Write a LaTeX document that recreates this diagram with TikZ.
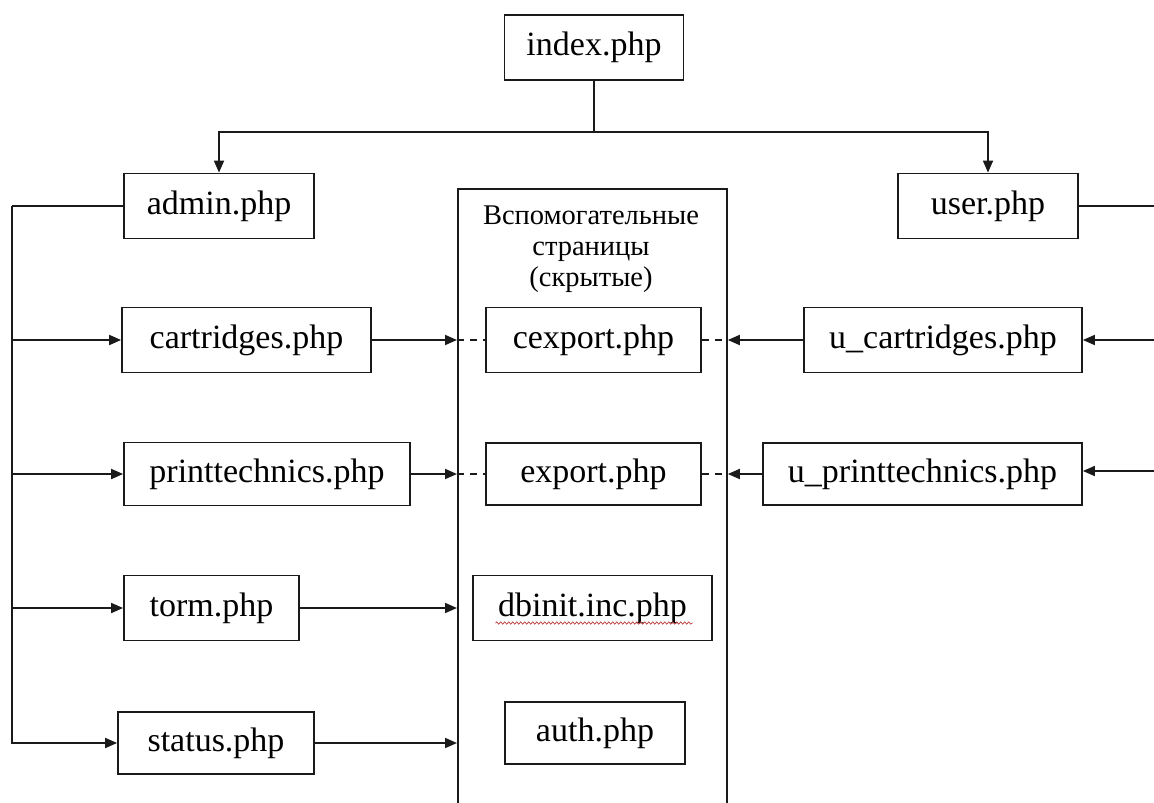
\documentclass[tikz,border=0pt]{standalone}
\usepackage{fontspec}
\setmainfont{Liberation Serif}
\usetikzlibrary{positioning,arrows.meta,calc,decorations.pathmorphing}
\definecolor{ink}{HTML}{1A1A1A}
\definecolor{squiggle}{HTML}{C0393B}
\tikzset{
  page/.style  ={draw=ink, line width=1.8pt, fill=white, minimum height=65pt, inner sep=0pt, font=\fontsize{34}{40}\selectfont},
  hidden/.style={draw=ink, line width=1.8pt, minimum width=269pt, minimum height=660pt, inner sep=0pt},
  htitle/.style={align=center, font=\fontsize{28.5}{31}\selectfont},
  ln/.style    ={draw=ink, line width=1.8pt, -{Triangle[length=12pt,width=10pt]}},
  lnp/.style   ={draw=ink, line width=1.8pt},
  lnd/.style   ={draw=ink, line width=1.8pt, dash pattern=on 7pt off 6pt},
}

\begin{document}
\begin{tikzpicture}[x=1pt,y=-1pt]
    \useasboundingbox (0,0) rectangle (1154,803);
    \clip (0,0) rectangle (1154,803);

    % hidden helper pages
    \node[hidden,anchor=north west] (aux) at (457,188) {};
    \node[htitle] (auxt) at (591,249) {Вспомогательные\\страницы\\(скрытые)};

    \node[page,minimum width=179pt] (index) at (594,47.5) {index.php};
    \node[page,minimum width=190pt] (admin) at (219,206) {admin.php};
    \node[page,minimum width=180pt] (user)  at (988,206) {user.php};

    \node[page,minimum width=249pt] (cart)  at (246.5,340) {cartridges.php};
    \node[page,minimum width=286pt,minimum height=63pt] (print) at (267,474) {printtechnics.php};
    \node[page,minimum width=175pt] (torm)  at (211.5,608) {torm.php};
    \node[page,minimum width=196pt,minimum height=62pt] (status) at (216,743) {status.php};

    \node[page,minimum width=215pt] (cexp)  at (593.5,340) {cexport.php};
    \node[page,minimum width=215pt,minimum height=62pt] (exp) at (593.5,474) {export.php};
    \node[page,minimum width=239pt] (dbinit) at (592.5,608) {dbinit.inc.php};
    \node[page,minimum width=180pt,minimum height=62pt] (auth) at (595,733) {auth.php};

    \node[page,minimum width=278pt] (ucart)  at (943,340) {u\_cartridges.php};
    \node[page,minimum width=319pt,minimum height=62pt] (uprint) at (922.5,474) {u\_printtechnics.php};

    \draw[squiggle,line width=.7pt,decorate,decoration={snake,amplitude=1.2pt,segment length=4pt}]
      ($(dbinit.center)+(-97,15)$) -- ($(dbinit.center)+(100,15)$);

    % free ends at the page edges
    \coordinate (bus)  at (12,206);
    \coordinate (rout) at (1154,206);
    \coordinate (rin1) at (1154,340);
    \coordinate (rin2) at (1154,471);
    \coordinate (top)  at (594,132);

    \draw[lnp] (index.south) -- (top);
    \draw[ln] (top) -| (admin.north);
    \draw[ln] (top) -| (user.north);

    \draw[lnp] (admin.west) -- (bus);
    \draw[ln] (bus) |- (status.west);
    \draw[ln] (bus |- cart.west) -- (cart.west);
    \draw[ln] (bus |- print.west) -- (print.west);
    \draw[ln] (bus |- torm.west) -- (torm.west);

    \draw[ln] (cart.east) -- (cart.east -| aux.west);
    \draw[ln] (print.east) -- (print.east -| aux.west);
    \draw[ln] (torm.east) -- (torm.east -| aux.west);
    \draw[ln] (status.east) -- (status.east -| aux.west);
    \draw[lnd] (cexp.west -| aux.west) -- (cexp.west);
    \draw[lnd] (exp.west -| aux.west) -- (exp.west);

    \draw[lnd] (cexp.east) -- (cexp.east -| aux.east);
    \draw[lnd] (exp.east) -- (exp.east -| aux.east);
    \draw[ln] (ucart.west) -- (ucart.west -| aux.east);
    \draw[ln] (uprint.west) -- (uprint.west -| aux.east);

    \draw[lnp] (user.east |- rout) -- (rout);
    \draw[ln] (rin1) -- (ucart.east);
    \draw[ln] (rin2) -- (uprint.east |- rin2);
  \end{tikzpicture}
\end{document}
